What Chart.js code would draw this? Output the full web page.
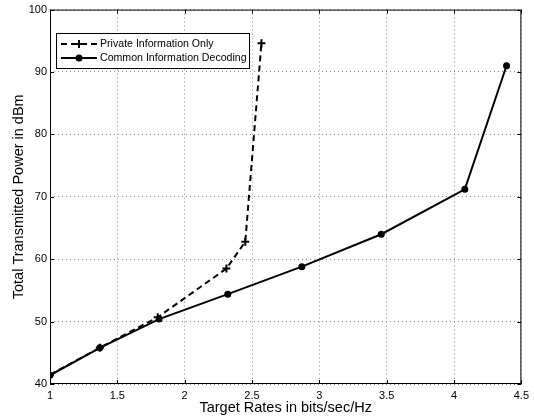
<!DOCTYPE html>
<html>
<head>
<meta charset="utf-8">
<script src="https://cdn.jsdelivr.net/npm/chart.js@4.4.1/dist/chart.umd.min.js"></script>
<style>
  html, body { margin: 0; padding: 0; background: #fff; }
  #wrap { width: 534px; height: 419px; }
</style>
</head>
<body>
<div id="wrap"><canvas id="chart" width="534" height="419"></canvas></div>
<script>
// values
var privateRates = [1.0, 1.37, 1.8, 2.31, 2.45, 2.57];
var privatePower = [41.5, 45.8, 50.7, 58.5, 62.8, 94.6];

var commonRates = [1.0, 1.37, 1.81, 2.32, 2.87, 3.46, 4.08, 4.39];
var commonPower = [41.4, 45.8, 50.4, 54.4, 58.8, 64.0, 71.2, 91.0];

var xTicks = [1, 1.5, 2, 2.5, 3, 3.5, 4, 4.5];
var yTicks = [40, 50, 60, 70, 80, 90, 100];

var seriesNames = ['Private Information Only', 'Common Information Decoding'];

function toPoints(xs, ys) {
    var pts = [];
    for (var i = 0; i < xs.length; i++) {
        pts.push({x: xs[i], y: ys[i]});
    }
    return pts;
}

// matlab style box, inward ticks and legend
var boxPlugin = {
    id: 'boxPlugin',
    afterDraw: function(chart) {
        var ctx = chart.ctx;
        var a = chart.chartArea;
        var xs = chart.scales.x, ys = chart.scales.y;
        ctx.save();
        ctx.strokeStyle = '#000';
        ctx.lineWidth = 1;
        ctx.strokeRect(a.left + 0.5, a.top + 0.5, a.right - a.left - 1, a.bottom - a.top - 1);

        ctx.beginPath();
        xTicks.forEach(function(v) {
            var px = Math.round(xs.getPixelForValue(v)) + 0.5;
            ctx.moveTo(px, a.bottom); ctx.lineTo(px, a.bottom - 4);
            ctx.moveTo(px, a.top); ctx.lineTo(px, a.top + 4);
        });
        yTicks.forEach(function(v) {
            var py = Math.round(ys.getPixelForValue(v)) + 0.5;
            ctx.moveTo(a.left, py); ctx.lineTo(a.left + 4, py);
            ctx.moveTo(a.right, py); ctx.lineTo(a.right - 4, py);
        });
        ctx.stroke();

        // legend
        var lx = 56, ly = 33, lw = 193, lh = 35;
        ctx.fillStyle = '#fff';
        ctx.fillRect(lx, ly, lw, lh);
        ctx.strokeRect(lx + 0.5, ly + 0.5, lw, lh);

        ctx.lineWidth = 2;
        var r1 = ly + 11, r2 = ly + 25;
        ctx.setLineDash([6, 4]);
        ctx.beginPath();
        ctx.moveTo(61, r1); ctx.lineTo(97, r1);
        ctx.stroke();
        ctx.setLineDash([]);
        ctx.beginPath();
        ctx.moveTo(79, r1 - 4); ctx.lineTo(79, r1 + 4);
        ctx.moveTo(75, r1); ctx.lineTo(83, r1);
        ctx.stroke();

        ctx.beginPath();
        ctx.moveTo(61, r2); ctx.lineTo(97, r2);
        ctx.stroke();
        ctx.fillStyle = '#000';
        ctx.beginPath();
        ctx.arc(79, r2, 3.5, 0, Math.PI * 2);
        ctx.fill();

        ctx.font = '10.6px "Liberation Sans", Arial, sans-serif';
        ctx.textBaseline = 'middle';
        ctx.textAlign = 'left';
        ctx.fillText(seriesNames[0], 100, r1);
        ctx.fillText(seriesNames[1], 100, r2);
        ctx.restore();
    }
};

Chart.defaults.font.family = '"Liberation Sans", Arial, sans-serif';
Chart.defaults.font.size = 11;
Chart.defaults.color = '#000';

var ctx = document.getElementById('chart').getContext('2d');
new Chart(ctx, {
    type: 'scatter',
    data: {
        datasets: [{
            label: seriesNames[1],
            data: toPoints(commonRates, commonPower),
            showLine: true,
            borderColor: '#000',
            backgroundColor: '#000',
            borderWidth: 2,
            pointStyle: 'circle',
            pointRadius: 3.5,
            pointBorderWidth: 0,
            pointHoverRadius: 3.5
        }, {
            label: seriesNames[0],
            data: toPoints(privateRates, privatePower),
            showLine: true,
            borderColor: '#000',
            backgroundColor: '#000',
            borderWidth: 2,
            borderDash: [6, 4],
            pointStyle: 'cross',
            pointRadius: 4,
            pointBorderWidth: 2,
            pointHoverRadius: 4
        }]
    },
    options: {
        responsive: false,
        animation: false,
        events: [],
        layout: {
            padding: {top: 9, right: 8, left: 0, bottom: 0}
        },
        scales: {
            x: {
                type: 'linear',
                min: 1,
                max: 4.5,
                afterFit: function(scale) { scale.height = 35; },
                afterBuildTicks: function(scale) {
                    scale.ticks = xTicks.map(function(v) { return {value: v}; });
                },
                ticks: {
                    padding: 5,
                    maxRotation: 0,
                    font: {size: 11},
                    callback: function(v) { return String(v); }
                },
                grid: {
                    color: '#8a8a8a',
                    lineWidth: 1,
                    drawTicks: false
                },
                border: {display: false, dash: [1, 3]},
                title: {
                    display: true,
                    text: 'Target Rates in bits/sec/Hz',
                    font: {size: 14.5},
                    padding: {top: 0, bottom: 2}
                }
            },
            y: {
                type: 'linear',
                min: 40,
                max: 100,
                afterFit: function(scale) { scale.width = 50; },
                afterBuildTicks: function(scale) {
                    scale.ticks = yTicks.map(function(v) { return {value: v}; });
                },
                ticks: {
                    padding: 3,
                    font: {size: 11},
                    callback: function(v) { return String(v); }
                },
                grid: {
                    color: '#8a8a8a',
                    lineWidth: 1,
                    drawTicks: false
                },
                border: {display: false, dash: [1, 3]},
                title: {
                    display: true,
                    text: 'Total Transmitted Power in dBm',
                    font: {size: 14.5},
                    padding: {top: 10, bottom: 0}
                }
            }
        },
        plugins: {
            legend: {display: false},
            tooltip: {enabled: false}
        }
    },
    plugins: [boxPlugin]
});
</script>
</body>
</html>
